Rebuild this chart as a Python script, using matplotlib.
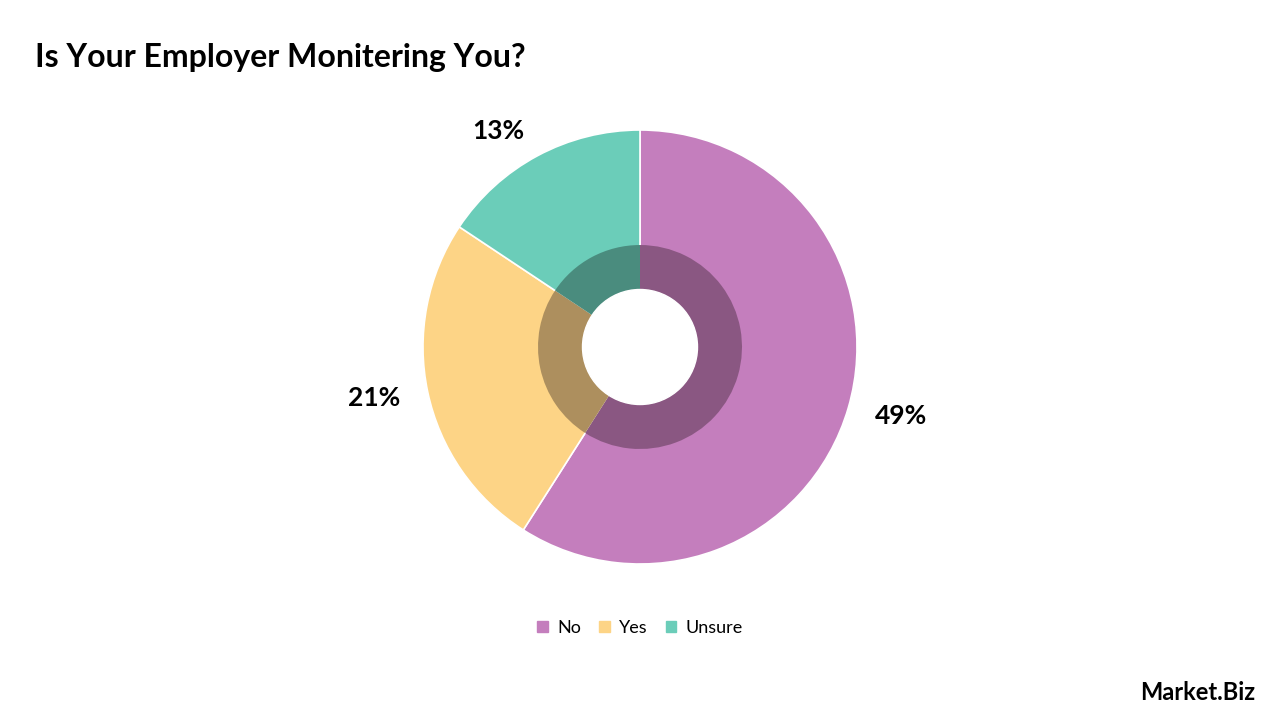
import matplotlib
matplotlib.use("Agg")
import matplotlib.pyplot as plt
from matplotlib.patches import Patch, Circle

plt.rcParams["font.family"] = ["Lato", "DejaVu Sans"]

labels = ["No", "Yes", "Unsure"]
values = [49, 21, 13]
colors = ["#C47EBD", "#FDD486", "#6BCDB9"]
dark_colors = ["#8A5782", "#AD8F5E", "#4A8C7E"]

fig = plt.figure(figsize=(12.8, 7.2), dpi=100)
r_px = 217
ax = fig.add_axes([(640 - r_px) / 1280, (373 - r_px) / 720, 2 * r_px / 1280, 2 * r_px / 720])

ax.pie(values, colors=colors, startangle=90, counterclock=False, radius=1.0,
       labels=[f"{v}%" for v in values], labeldistance=1.13,
       textprops=dict(fontsize=19, fontweight="bold", color="black"),
       wedgeprops=dict(edgecolor="white", linewidth=1.2))
ax.pie(values, colors=dark_colors, startangle=90, counterclock=False, radius=0.47,
       wedgeprops=dict(width=0.21, edgecolor="none"))
ax.add_patch(Circle((0, 0), 0.265, color="white", zorder=5))
ax.set_xlim(-1, 1)
ax.set_ylim(-1, 1)
ax.set_aspect("equal")

fig.text(35 / 1280, 1 - 58 / 720, "Is Your Employer Monitering You?", fontsize=23,
         fontweight="bold", va="center", ha="left")

handles = [Patch(color=c, label=l) for c, l in zip(colors, labels)]
fig.legend(handles=handles, loc="center", bbox_to_anchor=(640 / 1280, 1 - 628 / 720),
           ncol=3, frameon=False, fontsize=13, handlelength=0.6, handleheight=0.6,
           handletextpad=0.5, columnspacing=1.0)

fig.text(1255 / 1280, 1 - 692 / 720, "Market.Biz", fontsize=17, fontweight="bold",
         ha="right", va="center")

fig.savefig("out.png", dpi=100, facecolor="white")
